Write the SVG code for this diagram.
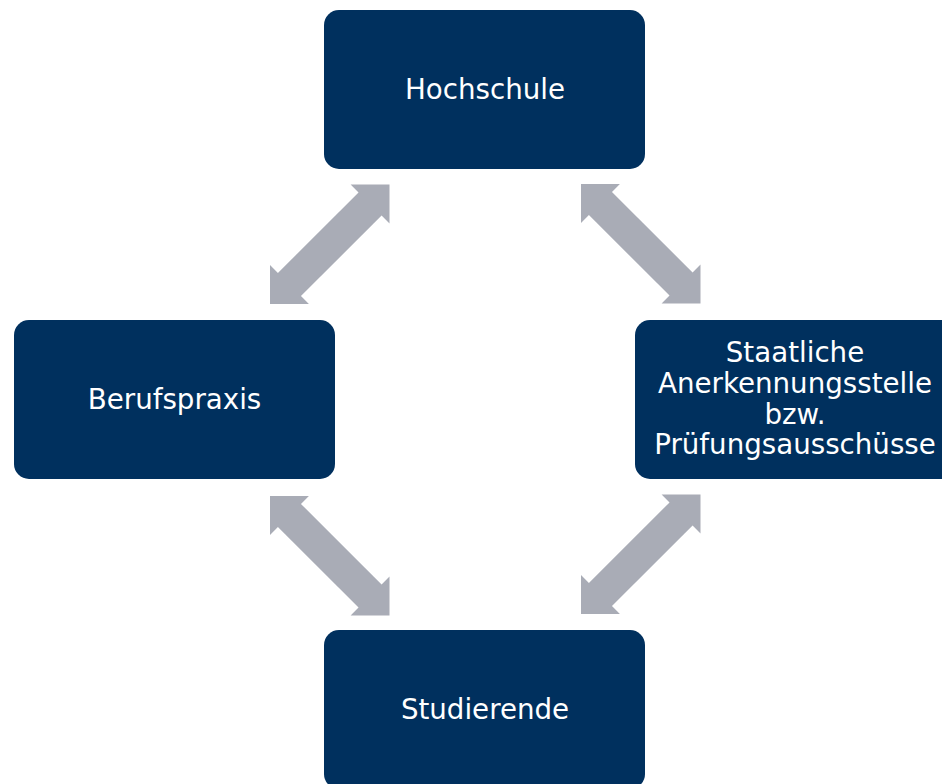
<svg xmlns="http://www.w3.org/2000/svg" width="942" height="784" viewBox="0 0 942 784">
  <defs>
    <style>
      .box { fill: #00305E; }
      .lbl { fill: #FFFFFF; font-family: "DejaVu Sans", Verdana, sans-serif; font-size: 27.7px; text-anchor: middle; }
      .arr { fill: #A9ACB6; }
    </style>
    <polygon id="dblarrow" points="0,0 27.5,-27.5 27.5,-16.3 141.5,-16.3 141.5,-27.5 169,0 141.5,27.5 141.5,16.3 27.5,16.3 27.5,27.5"/>
  </defs>
  <rect width="942" height="784" fill="#FFFFFF"/>
  <g id="connectors">
    <use href="#dblarrow" class="arr" transform="translate(270,304) rotate(-45)"/>
    <use href="#dblarrow" class="arr" transform="translate(581,184) rotate(45)"/>
    <use href="#dblarrow" class="arr" transform="translate(270,496) rotate(45)"/>
    <use href="#dblarrow" class="arr" transform="translate(581,614) rotate(-45)"/>
  </g>
  <g id="node-hochschule">
    <rect class="box" x="324" y="10" width="321" height="159" rx="15"/>
    <text class="lbl" x="485" y="99">Hochschule</text>
  </g>
  <g id="node-berufspraxis">
    <rect class="box" x="14" y="320" width="321" height="159" rx="15"/>
    <text class="lbl" x="174.5" y="409">Berufspraxis</text>
  </g>
  <g id="node-anerkennung">
    <rect class="box" x="635" y="320" width="321" height="159" rx="15"/>
    <text class="lbl" x="795" y="362">Staatliche</text>
    <text class="lbl" x="795" y="393">Anerkennungsstelle</text>
    <text class="lbl" x="795" y="423.5">bzw.</text>
    <text class="lbl" x="795" y="454">Prüfungsausschüsse</text>
  </g>
  <g id="node-studierende">
    <rect class="box" x="324" y="630" width="321" height="159" rx="15"/>
    <text class="lbl" x="485" y="719">Studierende</text>
  </g>
</svg>
